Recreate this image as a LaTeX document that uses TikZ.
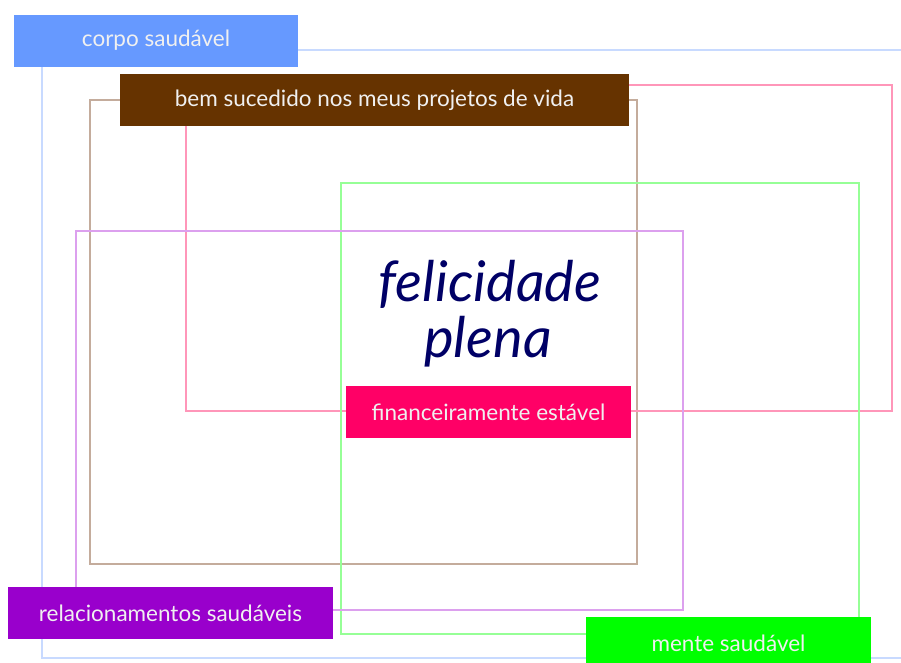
\documentclass[tikz,border=0pt]{standalone}
\usepackage{fontspec}
\setmainfont{Lato}
\usepackage{tikz}
\usetikzlibrary{positioning}
\definecolor{corpo}{RGB}{102,153,255}
\definecolor{corpoline}{RGB}{200,218,255}
\definecolor{projeto}{RGB}{102,51,0}
\definecolor{projetoline}{RGB}{196,172,156}
\definecolor{financa}{RGB}{255,0,102}
\definecolor{financaline}{RGB}{255,150,185}
\definecolor{mente}{RGB}{0,255,0}
\definecolor{menteline}{RGB}{150,255,150}
\definecolor{relacao}{RGB}{153,0,204}
\definecolor{relacaoline}{RGB}{220,160,238}
\definecolor{plena}{RGB}{0,0,102}

\begin{document}
\begin{tikzpicture}[x=1pt, y=-1pt,
  area/.style={line width=1.3pt},
  tag/.style={inner sep=0pt, minimum height=52pt, text=white!94!black,
    font=\fontsize{22.5}{26}\selectfont},
  motto/.style={inner sep=0pt, anchor=base, text=plena,
    font=\fontsize{56}{56}\selectfont\itshape}]
  \useasboundingbox (0,0) rectangle (901,662);

  % outlines
  \draw[area, corpoline] (901,50) -- (42,50) -- (42,658) -- (901,658);
  \draw[area, projetoline] (90,100) rectangle (637,564);
  \draw[area, financaline] (186,85) rectangle (892,411);
  \draw[area, menteline] (341,183) rectangle (859,634);
  \draw[area, relacaoline] (76,231) rectangle (683,610);

  % labels
  \node[tag, fill=corpo, minimum width=284pt] (corpo) at (156,40.5) {corpo saudável};
  \node[tag, fill=projeto, minimum width=509pt] (projeto) at (374.5,100) {bem sucedido nos meus projetos de vida};
  \node[tag, fill=financa, minimum width=285pt] (financa) at (488.5,412) {financeiramente estável};
  \node[tag, fill=relacao, minimum width=325pt] (relacao) at (170.5,613) {relacionamentos saudáveis};
  \node[tag, fill=mente, minimum width=285pt] (mente) at (728.5,643) {mente saudável};

  % centre
  \node[motto] (felicidade) at (490,301) {felicidade};
  \node[motto] (plenitude) at (488,357) {plena};
\end{tikzpicture}
\end{document}
